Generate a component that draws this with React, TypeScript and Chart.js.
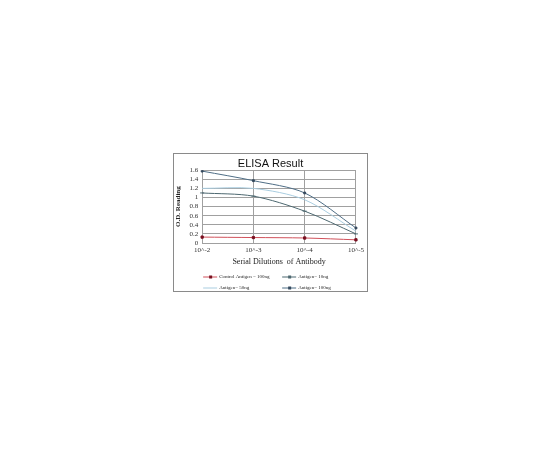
import { useEffect, useRef } from "react"
import { Chart, registerables, Plugin } from "chart.js"

Chart.register(...registerables)

const dilutions = ["10^-2", "10^-3", "10^-4", "10^-5"]
const yTicks = [0, 0.2, 0.4, 0.6, 0.8, 1, 1.2, 1.4, 1.6]

const control100 = [0.13, 0.12, 0.11, 0.07]
const antigen10 = [1.1, 1.03, 0.7, 0.2]
const antigen50 = [1.2, 1.2, 0.95, 0.26]
const antigen100 = [1.58, 1.37, 1.1, 0.33]

const seriesNames = ["Control Antigen = 100ng", "Antigen= 10ng", "Antigen= 50ng", "Antigen= 100ng"]

// two-column legend drawn under the axis title, like the Excel original
const gridLegend: Plugin = {
  id: "gridLegend",
  afterDraw(chart) {
    const ctx = chart.ctx
    const area = chart.chartArea
    const cols = [area.left + 1, area.left + 80]
    const rows = [area.bottom + 34, area.bottom + 45]
    ctx.save()
    ctx.font = "5px 'Liberation Serif'"
    ctx.textBaseline = "middle"
    chart.data.datasets.forEach((ds: any, i) => {
      const x = cols[i % 2]
      const y = rows[Math.floor(i / 2)]
      ctx.strokeStyle = ds.borderColor
      ctx.lineWidth = 1
      ctx.beginPath()
      ctx.moveTo(x, y)
      ctx.lineTo(x + 14, y)
      ctx.stroke()
      if (ds.pointRadius > 0) {
        ctx.fillStyle = ds.pointBackgroundColor
        ctx.fillRect(x + 6, y - 1.5, 3, 3)
      }
      ctx.fillStyle = "#222"
      ctx.fillText(ds.label, x + 16, y)
    })
    ctx.restore()
  },
}

export default function App() {
  const chartRef = useRef<HTMLCanvasElement>(null)
  const chartInstance = useRef<Chart | null>(null)

  useEffect(() => {
    if (!chartRef.current) return
    if (chartInstance.current) {
      chartInstance.current.destroy()
    }
    const ctx = chartRef.current.getContext("2d")
    if (!ctx) return

    chartInstance.current = new Chart(ctx, {
      type: "line",
      data: {
        labels: dilutions,
        datasets: [
          {
            label: seriesNames[0],
            data: control100,
            borderColor: "#d0505a",
            pointBackgroundColor: "#7a1020",
            pointBorderColor: "#7a1020",
            pointStyle: "rect",
            pointRadius: 1.6,
            borderWidth: 1,
            tension: 0.3,
          },
          {
            label: seriesNames[1],
            data: antigen10,
            borderColor: "#4d6870",
            pointBackgroundColor: "#4d6870",
            pointBorderColor: "#4d6870",
            pointStyle: "line",
            pointRadius: 2,
            borderWidth: 1,
            tension: 0.3,
          },
          {
            label: seriesNames[2],
            data: antigen50,
            borderColor: "#a9cde0",
            pointBackgroundColor: "#a9cde0",
            pointRadius: 0,
            borderWidth: 1,
            tension: 0.3,
          },
          {
            label: seriesNames[3],
            data: antigen100,
            borderColor: "#4f6e86",
            pointBackgroundColor: "#34495e",
            pointBorderColor: "#34495e",
            pointStyle: "rect",
            pointRadius: 1.3,
            borderWidth: 1,
            tension: 0.3,
          },
        ],
      },
      options: {
        responsive: true,
        maintainAspectRatio: false,
        animation: false,
        layout: {
          padding: { top: 0, left: 0, right: 0, bottom: 24 },
        },
        scales: {
          x: {
            offset: false,
            grid: { color: "#a0a0a0", lineWidth: 1, drawTicks: false },
            border: { color: "#a0a0a0" },
            ticks: {
              padding: 3,
              color: "#333",
              font: { family: "'Liberation Serif'", size: 7 },
            },
            title: {
              display: true,
              text: "Serial Dilutions  of Antibody",
              color: "#222",
              padding: { top: 0, bottom: 0 },
              font: { family: "'Liberation Serif'", size: 8 },
            },
          },
          y: {
            min: 0,
            max: 1.6,
            afterBuildTicks: (scale) => {
              scale.ticks = yTicks.map((v) => ({ value: v }))
            },
            grid: { color: "#a0a0a0", lineWidth: 1, drawTicks: false },
            border: { color: "#a0a0a0" },
            ticks: {
              autoSkip: false,
              padding: 4,
              color: "#333",
              font: { family: "'Liberation Serif'", size: 7 },
              callback: (v) => String(Math.round(Number(v) * 10) / 10),
            },
            title: {
              display: true,
              text: "O.D. Reading",
              color: "#222",
              padding: { top: 0, bottom: 3 },
              font: { family: "'Liberation Serif'", size: 7, weight: "bold" },
            },
          },
        },
        plugins: {
          legend: { display: false },
          tooltip: { enabled: false },
          title: {
            display: true,
            text: "ELISA Result",
            color: "#111",
            padding: { top: 3, bottom: 0 },
            font: { family: "'Liberation Sans'", size: 11, weight: "normal" },
          },
        },
      },
      plugins: [gridLegend],
    })

    return () => {
      if (chartInstance.current) {
        chartInstance.current.destroy()
      }
    }
  }, [])

  return (
    <div
      style={{
        position: "absolute",
        left: 173,
        top: 153,
        width: 195,
        height: 139,
        border: "1px solid #8a8a8a",
        boxSizing: "border-box",
        background: "#fff",
      }}
    >
      <canvas ref={chartRef} />
    </div>
  )
}
